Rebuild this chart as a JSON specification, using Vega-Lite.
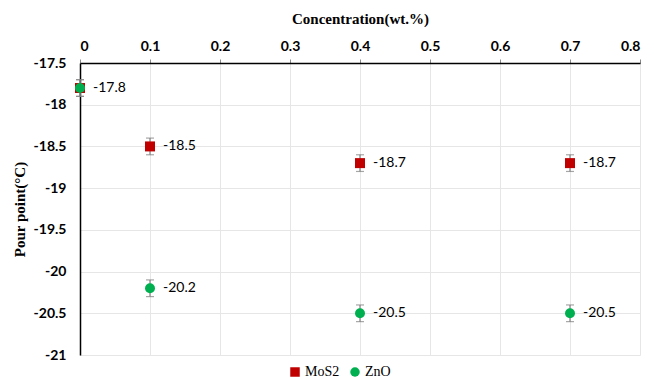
{
  "$schema": "https://vega.github.io/schema/vega-lite/v6.json",
  "width": 560,
  "height": 292,
  "autosize": {"type": "none"},
  "padding": {"left": 80, "top": 63, "right": 14, "bottom": 23},
  "background": "white",
  "data": {
    "values": [
      {"series": "MoS2", "conc": 0, "pp": -17.8, "lo": -17.9, "hi": -17.7, "show": false},
      {"series": "MoS2", "conc": 0.1, "pp": -18.5, "lo": -18.6, "hi": -18.4, "show": true},
      {"series": "MoS2", "conc": 0.4, "pp": -18.7, "lo": -18.8, "hi": -18.6, "show": true},
      {"series": "MoS2", "conc": 0.7, "pp": -18.7, "lo": -18.8, "hi": -18.6, "show": true},
      {"series": "ZnO", "conc": 0, "pp": -17.8, "lo": -17.9, "hi": -17.7, "show": true},
      {"series": "ZnO", "conc": 0.1, "pp": -20.2, "lo": -20.3, "hi": -20.1, "show": true},
      {"series": "ZnO", "conc": 0.4, "pp": -20.5, "lo": -20.6, "hi": -20.4, "show": true},
      {"series": "ZnO", "conc": 0.7, "pp": -20.5, "lo": -20.6, "hi": -20.4, "show": true}
    ]
  },
  "encoding": {
    "x": {
      "field": "conc", "type": "quantitative",
      "scale": {"domain": [0, 0.8], "nice": false, "zero": false},
      "axis": {
        "orient": "top", "title": "Concentration(wt.%)", "values": [0, 0.1, 0.2, 0.3, 0.4, 0.5, 0.6, 0.7, 0.8],
        "labelExpr": "datum.value + ''",
        "titleFont": "Liberation Serif", "titleFontSize": 15, "titleFontWeight": "bold", "titleColor": "black",
        "titlePadding": 13,
        "labelFont": "Lato", "labelFontSize": 14, "labelFontWeight": "bold", "labelColor": "black",
        "labelPadding": 6, "tickSize": 4, "tickColor": "#888888",
        "domainColor": "black", "domainWidth": 1.5,
        "grid": true, "gridColor": "#e6e6e6"
      }
    },
    "y": {
      "field": "pp", "type": "quantitative",
      "scale": {"domain": [-21, -17.5], "nice": false, "zero": false},
      "axis": {
        "title": "Pour point(°C)", "values": [-21, -20.5, -20, -19.5, -19, -18.5, -18, -17.5],
        "labelExpr": "datum.value + ''",
        "titleFont": "Liberation Serif", "titleFontSize": 15, "titleFontWeight": "bold", "titleColor": "black",
        "titlePadding": 6,
        "labelFont": "Lato", "labelFontSize": 14, "labelFontWeight": "bold", "labelColor": "black",
        "labelPadding": 14, "ticks": false,
        "domainColor": "black", "domainWidth": 1.5,
        "grid": true, "gridColor": "#e6e6e6"
      }
    }
  },
  "layer": [
    {
      "mark": {"type": "rule", "color": "#808080", "strokeWidth": 1.2},
      "encoding": {"y": {"field": "lo", "type": "quantitative"}, "y2": {"field": "hi"}}
    },
    {
      "mark": {"type": "tick", "color": "#808080", "orient": "horizontal", "size": 8, "thickness": 1.2},
      "encoding": {"y": {"field": "lo", "type": "quantitative"}}
    },
    {
      "mark": {"type": "tick", "color": "#808080", "orient": "horizontal", "size": 8, "thickness": 1.2},
      "encoding": {"y": {"field": "hi", "type": "quantitative"}}
    },
    {
      "mark": {"type": "point", "filled": true, "opacity": 1},
      "encoding": {
        "color": {
          "field": "series", "type": "nominal",
          "scale": {"domain": ["MoS2", "ZnO"], "range": ["#C00000", "#00B050"]},
          "legend": {
            "orient": "none", "legendX": 208, "legendY": 302, "direction": "horizontal", "title": null,
            "labelFont": "Liberation Serif", "labelFontSize": 14, "labelColor": "black",
            "symbolSize": 90, "columnPadding": 8, "labelOffset": 3
          }
        },
        "shape": {
          "field": "series", "type": "nominal",
          "scale": {"domain": ["MoS2", "ZnO"], "range": ["square", "circle"]}
        },
        "size": {"value": 100}
      }
    },
    {
      "transform": [{"filter": "datum.show"}],
      "mark": {"type": "text", "align": "left", "baseline": "middle", "dx": 13, "font": "Lato", "fontSize": 14, "color": "black"},
      "encoding": {"text": {"field": "pp", "type": "nominal"}}
    }
  ],
  "config": {"view": {"stroke": null}}
}
